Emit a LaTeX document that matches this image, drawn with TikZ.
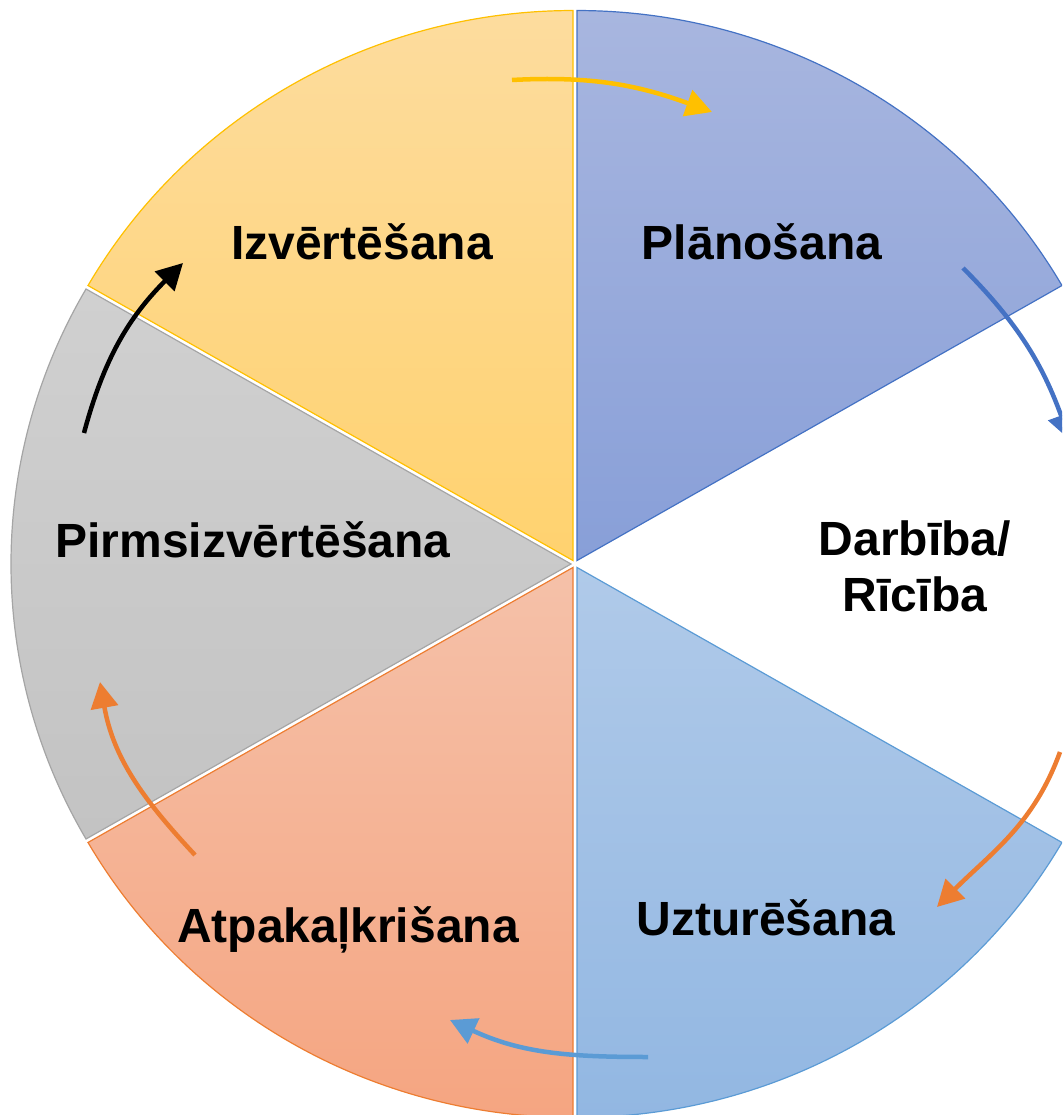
\documentclass[tikz,border=0pt]{standalone}
\usepackage{fontspec}
\setmainfont{Liberation Sans}
\usetikzlibrary{arrows.meta}
\definecolor{planTop}{HTML}{A8B6DF}
\definecolor{planBot}{HTML}{889FD8}
\definecolor{planEdge}{HTML}{4472C4}
\definecolor{evalTop}{HTML}{FDDC9E}
\definecolor{evalBot}{HTML}{FFD26F}
\definecolor{evalEdge}{HTML}{FFC000}
\definecolor{preTop}{HTML}{D0D0D0}
\definecolor{preBot}{HTML}{C3C3C3}
\definecolor{preEdge}{HTML}{A5A5A5}
\definecolor{backTop}{HTML}{F5C1A9}
\definecolor{backBot}{HTML}{F5A581}
\definecolor{backEdge}{HTML}{ED7D31}
\definecolor{keepTop}{HTML}{B0CAE9}
\definecolor{keepBot}{HTML}{92B7E2}
\definecolor{keepEdge}{HTML}{5B9BD5}

\begin{document}
\begin{tikzpicture}[x=1pt, y=1pt,
    phasetext/.style={font=\fontsize{48}{56}\selectfont\bfseries, text=black, inner sep=0pt},
    cyclearrow/.style={line width=4.5pt, -{Triangle[length=26pt, width=27pt]}}]
    \useasboundingbox (-575,-551) rectangle (487,564);
    \clip (-575,-551) rectangle (487,564);

    % Sectors (the action sector stays white)
    \foreach \a/\topc/\botc/\edgec in {90/planTop/planBot/planEdge, 150/evalTop/evalBot/evalEdge, 210/preTop/preBot/preEdge, 270/backTop/backBot/backEdge, 330/keepTop/keepBot/keepEdge} {
        \shadedraw[top color=\topc, bottom color=\botc, draw=\edgec, line width=1.2pt]
            ({\a-30}:4) -- ++({\a-60}:560 and 550)
            arc[start angle=\a-60, end angle=\a, x radius=560, y radius=550] -- cycle;
    }

    % Phase labels
    \node[phasetext, anchor=base] (izv) at (-213,304) {Izvērtēšana};
    \node[phasetext, anchor=base] (plan) at (187,304) {Plānošana};
    \node[phasetext, anchor=base] (pre) at (-322,6) {Pirmsizvērtēšana};
    \node[phasetext, anchor=base, align=center] (act) at (340,-48) {Darbība/\\Rīcība};
    \node[phasetext, anchor=base] (back) at (-227,-378) {Atpakaļkrišana};
    \node[phasetext, anchor=base] (keep) at (191,-371) {Uzturēšana};

    % Arrow ends
    \coordinate (y1) at (-63,484);  \coordinate (y2) at (137,452);
    \coordinate (b1) at (388,296);  \coordinate (b2) at (495,124);
    \coordinate (o1) at (485,-188); \coordinate (o2) at (362,-343);
    \coordinate (l1) at (73,-493);  \coordinate (l2) at (-125,-456);
    \coordinate (r1) at (-380,-291); \coordinate (r2) at (-475,-118);
    \coordinate (k1) at (-491,131); \coordinate (k2) at (-392,301);

    % Cycle arrows
    \draw[cyclearrow, evalEdge] (y1) to[out=3, in=160] (y2);
    \draw[cyclearrow, planEdge] (b1) to[out=-45, in=110] (b2);
    \draw[cyclearrow, backEdge] (o1) to[out=-110, in=45] (o2);
    \draw[cyclearrow, keepEdge] (l1) to[out=180, in=-25] (l2);
    \draw[cyclearrow, backEdge] (r1) to[out=133, in=-80] (r2);
    \draw[cyclearrow, black] (k1) to[out=75, in=-135] (k2);
\end{tikzpicture}
\end{document}
